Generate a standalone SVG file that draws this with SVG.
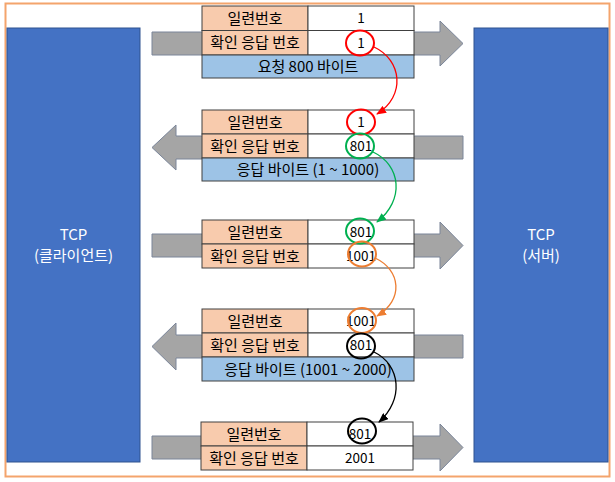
<svg xmlns="http://www.w3.org/2000/svg" width="615" height="482" viewBox="0 0 615 482">
<style>
.frame{fill:#fff;stroke:#F4A46C;stroke-width:2}
.host{fill:#4472C4;stroke:#2F528F;stroke-width:1}
.hl{fill:#fff;font-family:"Noto Sans CJK KR","Noto Sans",sans-serif;font-size:15px;text-anchor:middle}
.arr{fill:#A5A5A5;stroke:#7A8599;stroke-width:1}
.k{fill:#F8CBAD;stroke:#404040;stroke-width:1}
.v{fill:#fff;stroke:#404040;stroke-width:1}
.d{fill:#9DC3E6;stroke:#404040;stroke-width:1}
.t{fill:#000;font-family:"Noto Sans CJK KR","Noto Sans",sans-serif;font-size:15px;text-anchor:middle}
.n{fill:#000;font-family:"Noto Sans CJK KR","Noto Sans",sans-serif;font-size:13.5px;text-anchor:middle}
.c{fill:none;stroke-width:2}
.ln{fill:none;stroke-width:1.3}
</style>
<defs>
<marker id="mr" markerWidth="10" markerHeight="8" refX="9" refY="4" orient="auto" markerUnits="userSpaceOnUse"><path d="M0,0 L10,4 L0,8 Z" fill="#FF0000"/></marker>
<marker id="mg" markerWidth="10" markerHeight="8" refX="9" refY="4" orient="auto" markerUnits="userSpaceOnUse"><path d="M0,0 L10,4 L0,8 Z" fill="#00B050"/></marker>
<marker id="mo" markerWidth="10" markerHeight="8" refX="9" refY="4" orient="auto" markerUnits="userSpaceOnUse"><path d="M0,0 L10,4 L0,8 Z" fill="#ED7D31"/></marker>
<marker id="mk" markerWidth="10" markerHeight="8" refX="9" refY="4" orient="auto" markerUnits="userSpaceOnUse"><path d="M0,0 L10,4 L0,8 Z" fill="#000"/></marker>
</defs>
<rect x="5.5" y="3.5" width="604" height="473" class="frame"/>

<g id="client">
<rect x="7" y="28" width="133" height="434" class="host"/>
<text x="73.5" y="240" class="hl">TCP</text>
<text x="73.5" y="261" class="hl">(클라이언트)</text>
</g>
<g id="server">
<rect x="474" y="28" width="134" height="434" class="host"/>
<text x="541" y="240" class="hl">TCP</text>
<text x="541" y="261" class="hl">(서버)</text>
</g>

<g id="msg1">
<path class="arr" d="M152,32 H440 V21 L463,43.5 L440,66 V55 H152 Z"/>
<rect x="202" y="6" width="106" height="24.5" class="k"/>
<rect x="308" y="6" width="106" height="24.5" class="v"/>
<rect x="202" y="30.5" width="106" height="24.5" class="k"/>
<rect x="308" y="30.5" width="106" height="24.5" class="v"/>
<rect x="202" y="55" width="212" height="23" class="d"/>
<text x="255" y="23.5" class="t">일련번호</text>
<text x="361" y="23" class="n">1</text>
<text x="255" y="48" class="t">확인 응답 번호</text>
<text x="361" y="48" class="n">1</text>
<text x="308" y="71.5" class="t">요청 800 바이트</text>
<ellipse cx="360" cy="43" rx="14" ry="12.5" class="c" stroke="#FF0000"/>
</g>

<g id="msg2">
<path class="arr" d="M463,136 H176 V125 L152,147.5 L176,170 V159 H463 Z"/>
<rect x="202" y="110" width="106" height="24" class="k"/>
<rect x="308" y="110" width="106" height="24" class="v"/>
<rect x="202" y="134" width="106" height="24" class="k"/>
<rect x="308" y="134" width="106" height="24" class="v"/>
<rect x="202" y="158" width="212" height="23" class="d"/>
<text x="255" y="127.5" class="t">일련번호</text>
<text x="361" y="127" class="n">1</text>
<text x="255" y="151.5" class="t">확인 응답 번호</text>
<text x="361" y="151" class="n">801</text>
<text x="308" y="175" class="t">응답 바이트 (1 ~ 1000)</text>
<ellipse cx="361" cy="122" rx="14" ry="12.5" class="c" stroke="#FF0000"/>
<ellipse cx="360" cy="146" rx="14" ry="12.5" class="c" stroke="#00B050"/>
</g>

<g id="msg3">
<path class="arr" d="M152,234 H440 V222 L463,245.5 L440,269 V257 H152 Z"/>
<rect x="202" y="220" width="106" height="24" class="k"/>
<rect x="308" y="220" width="106" height="24" class="v"/>
<rect x="202" y="244" width="106" height="24" class="k"/>
<rect x="308" y="244" width="106" height="24" class="v"/>
<text x="255" y="237.5" class="t">일련번호</text>
<text x="361" y="237" class="n">801</text>
<text x="255" y="261.5" class="t">확인 응답 번호</text>
<text x="361" y="261" class="n">1001</text>
<ellipse cx="360" cy="231" rx="14" ry="12.5" class="c" stroke="#00B050"/>
<ellipse cx="362" cy="254" rx="14" ry="12.5" class="c" stroke="#ED7D31"/>
</g>

<g id="msg4">
<path class="arr" d="M463,335 H176 V323 L152,346.5 L176,370 V358 H463 Z"/>
<rect x="202" y="309" width="106" height="24" class="k"/>
<rect x="308" y="309" width="106" height="24" class="v"/>
<rect x="202" y="333" width="106" height="24" class="k"/>
<rect x="308" y="333" width="106" height="24" class="v"/>
<rect x="202" y="357" width="212" height="24" class="d"/>
<text x="255" y="326.5" class="t">일련번호</text>
<text x="361" y="326" class="n">1001</text>
<text x="255" y="350.5" class="t">확인 응답 번호</text>
<text x="361" y="350" class="n">801</text>
<text x="308" y="374.5" class="t">응답 바이트 (1001 ~ 2000)</text>
<ellipse cx="362" cy="320.5" rx="14" ry="12.5" class="c" stroke="#ED7D31"/>
<ellipse cx="361" cy="346" rx="14" ry="12.5" class="c" stroke="#000"/>
</g>

<g id="msg5">
<path class="arr" d="M152,436 H440 V424 L463,447.5 L440,471 V459 H152 Z"/>
<rect x="201" y="422" width="106" height="24" class="k"/>
<rect x="307" y="422" width="106" height="24" class="v"/>
<rect x="201" y="446" width="106" height="24" class="k"/>
<rect x="307" y="446" width="106" height="24" class="v"/>
<text x="254" y="439.5" class="t">일련번호</text>
<text x="360" y="439" class="n">801</text>
<text x="254" y="463.5" class="t">확인 응답 번호</text>
<text x="360" y="463" class="n">2001</text>
<ellipse cx="362" cy="431" rx="14" ry="12.5" class="c" stroke="#000"/>
</g>

<g id="connectors">
<path class="ln" stroke="#FF0000" marker-end="url(#mr)" d="M374,47 C402,60 406,96 377,114"/>
<path class="ln" stroke="#00B050" marker-end="url(#mg)" d="M373,152 C401,165 405,200 377,222"/>
<path class="ln" stroke="#ED7D31" marker-end="url(#mo)" d="M375,258 C401,270 404,300 377,316"/>
<path class="ln" stroke="#000" marker-end="url(#mk)" d="M374,352 C401,365 404,400 379,422"/>
</g>
</svg>
